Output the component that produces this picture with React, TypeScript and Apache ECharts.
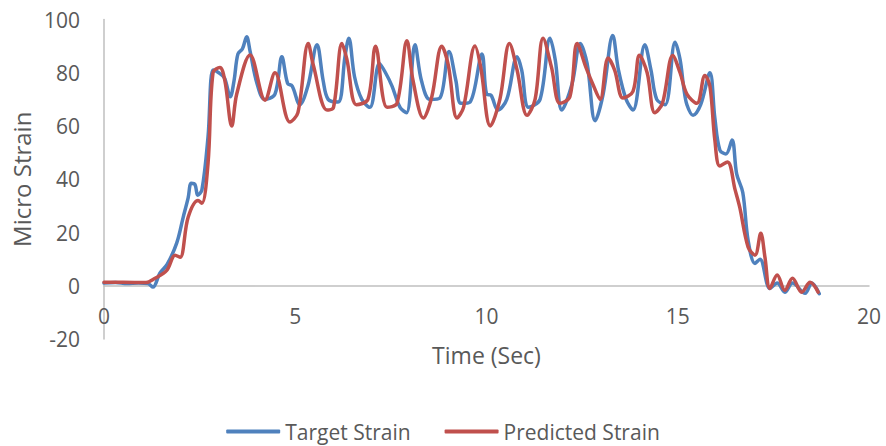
import React, { useEffect, useRef } from "react";
import * as echarts from "echarts";

const targetTime = [0, 0.3, 0.6, 0.9, 1.15, 1.28, 1.46, 1.65, 1.9, 2.07, 2.2, 2.28, 2.38, 2.45, 2.56, 2.72, 2.85, 3.0, 3.15, 3.3, 3.4, 3.5, 3.62, 3.73, 3.82, 4.0, 4.2, 4.47, 4.65, 4.8, 4.92, 5.12, 5.33, 5.57, 5.73, 5.86, 6.12, 6.3, 6.4, 6.55, 6.74, 6.95, 7.2, 7.36, 7.53, 7.74, 7.91, 8.13, 8.3, 8.52, 8.78, 9.02, 9.2, 9.33, 9.57, 9.88, 10.0, 10.12, 10.3, 10.53, 10.8, 10.92, 11.1, 11.4, 11.66, 11.8, 11.97, 12.24, 12.45, 12.63, 12.84, 13.05, 13.3, 13.45, 13.65, 13.83, 14.14, 14.3, 14.45, 14.67, 14.93, 15.06, 15.16, 15.24, 15.4, 15.6, 15.84, 15.97, 16.1, 16.26, 16.42, 16.54, 16.7, 16.84, 17.02, 17.15, 17.41, 17.6, 17.8, 18.0, 18.33, 18.5, 18.7];
const targetStrain = [1, 1.2, 0.8, 1, 0.8, -0.5, 4.7, 8, 16, 25.7, 33, 38.5, 38, 34, 36, 56, 81, 80, 78, 71, 77, 87, 89, 93.5, 88, 76, 70, 72, 86, 76, 75, 68, 75, 90.5, 77, 70, 69, 86, 93, 78.5, 70, 67, 83.5, 80, 75, 67, 65, 90.5, 77, 70, 70.5, 88, 77, 68.5, 69, 87, 72, 71.5, 66, 70, 86, 81, 67, 70, 93, 84.6, 66, 76, 91, 83.5, 62, 72, 94, 81, 70, 66, 90.5, 81, 70, 68, 91.5, 85, 74, 68, 64, 68, 80, 63, 51, 49.5, 54.7, 42, 35, 17, 8.4, 10, -1, 1, -2.4, 1, -2.8, 1, -3];

const predTime = [0, 0.5, 1.1, 1.3, 1.64, 1.86, 1.99, 2.2, 2.46, 2.56, 2.72, 2.85, 3.03, 3.16, 3.34, 3.47, 3.82, 4.21, 4.47, 4.86, 5.07, 5.34, 5.47, 5.83, 6.0, 6.22, 6.35, 6.6, 6.9, 7.1, 7.4, 7.66, 7.92, 8.08, 8.35, 8.57, 8.83, 9.0, 9.23, 9.4, 9.7, 9.85, 10.1, 10.35, 10.6, 10.8, 11.06, 11.27, 11.48, 11.7, 11.92, 12.18, 12.37, 12.6, 12.8, 12.97, 13.18, 13.35, 13.57, 13.83, 14.0, 14.2, 14.4, 14.6, 14.87, 15.06, 15.24, 15.5, 15.71, 15.84, 15.97, 16.1, 16.3, 16.5, 16.62, 16.84, 17.02, 17.17, 17.28, 17.41, 17.6, 17.8, 18.0, 18.24, 18.46, 18.67];
const predStrain = [1.3, 1.3, 1.2, 2.5, 5.8, 11.5, 10.7, 25.7, 32, 31, 46, 80, 82, 77, 60, 72, 86.7, 69.7, 80, 61.5, 65, 91, 83, 66, 67, 91, 85, 68, 70, 90, 67, 68.5, 92, 77, 63, 71, 90, 83, 63, 67, 90, 82, 60, 70, 91, 81, 64, 70, 93, 82, 68.5, 71, 91, 82, 75, 70, 85.5, 81, 70.5, 73, 86.6, 80, 65, 68.5, 86.5, 80, 72, 68.5, 79, 75, 54.7, 45, 46.5, 36, 29.5, 14.5, 11.5, 19.7, 10.7, -1, 4, -1.7, 2.8, -2.4, 1.3, -2.4];

const seriesNames = ["Target Strain", "Predicted Strain"];
const xTicks = { min: 0, max: 20, interval: 5 };
const yTicks = { min: -20, max: 100, interval: 20 };

const FONT = "'Open Sans', sans-serif";
const TEXT = "#595959";

export default function App() {
  const ref = useRef<HTMLDivElement>(null);
  useEffect(() => {
    if (!ref.current) return;
    const chart = echarts.init(ref.current, null, { renderer: "svg" });
    const pair = (xs: number[], ys: number[]) => xs.map((x, i) => [x, ys[i]]);
    chart.setOption({
      animation: false,
      textStyle: { fontFamily: FONT },
      grid: { left: 104, right: 17, top: 19.5, bottom: 107, containLabel: false },
      legend: {
        data: [
          { name: seriesNames[0], icon: "roundRect" },
          { name: seriesNames[1], icon: "roundRect" },
        ],
        left: "center",
        top: 416,
        itemWidth: 54,
        itemHeight: 4,
        itemGap: 34,
        textStyle: { color: TEXT, fontSize: 21, fontFamily: FONT },
      },
      xAxis: {
        type: "value",
        min: xTicks.min,
        max: xTicks.max,
        interval: xTicks.interval,
        name: "Time (Sec)",
        nameLocation: "middle",
        nameGap: 4,
        nameTextStyle: { color: TEXT, fontSize: 23, fontFamily: FONT },
        axisLine: { onZero: true, lineStyle: { color: "#BFBFBF", width: 1.5 } },
        axisTick: { show: false },
        splitLine: { show: false },
        axisLabel: { color: TEXT, fontSize: 21, margin: -34, fontFamily: FONT },
      },
      yAxis: {
        type: "value",
        min: yTicks.min,
        max: yTicks.max,
        interval: yTicks.interval,
        name: "Micro Strain",
        nameLocation: "middle",
        nameGap: 70,
        nameTextStyle: { color: TEXT, fontSize: 24, fontFamily: FONT },
        axisLine: { show: true, onZero: true, lineStyle: { color: "#BFBFBF", width: 1.5 } },
        axisTick: { show: false },
        splitLine: { show: false },
        axisLabel: { color: TEXT, fontSize: 21, margin: 24, fontFamily: FONT },
      },
      series: [
        {
          name: seriesNames[0],
          type: "line",
          data: pair(targetTime, targetStrain),
          showSymbol: false,
          symbol: "none",
          smooth: 0.35,
          lineStyle: { color: "#4F81BD", width: 3.5, cap: "round", join: "round" },
          itemStyle: { color: "#4F81BD" },
        },
        {
          name: seriesNames[1],
          type: "line",
          data: pair(predTime, predStrain),
          showSymbol: false,
          symbol: "none",
          smooth: 0.35,
          lineStyle: { color: "#C0504D", width: 3.5, cap: "round", join: "round" },
          itemStyle: { color: "#C0504D" },
        },
      ],
    });
    return () => chart.dispose();
  }, []);
  return (
    <div
      ref={ref}
      style={{ position: "fixed", left: 0, top: 0, width: 886, height: 446, background: "#fff" }}
    />
  );
}
